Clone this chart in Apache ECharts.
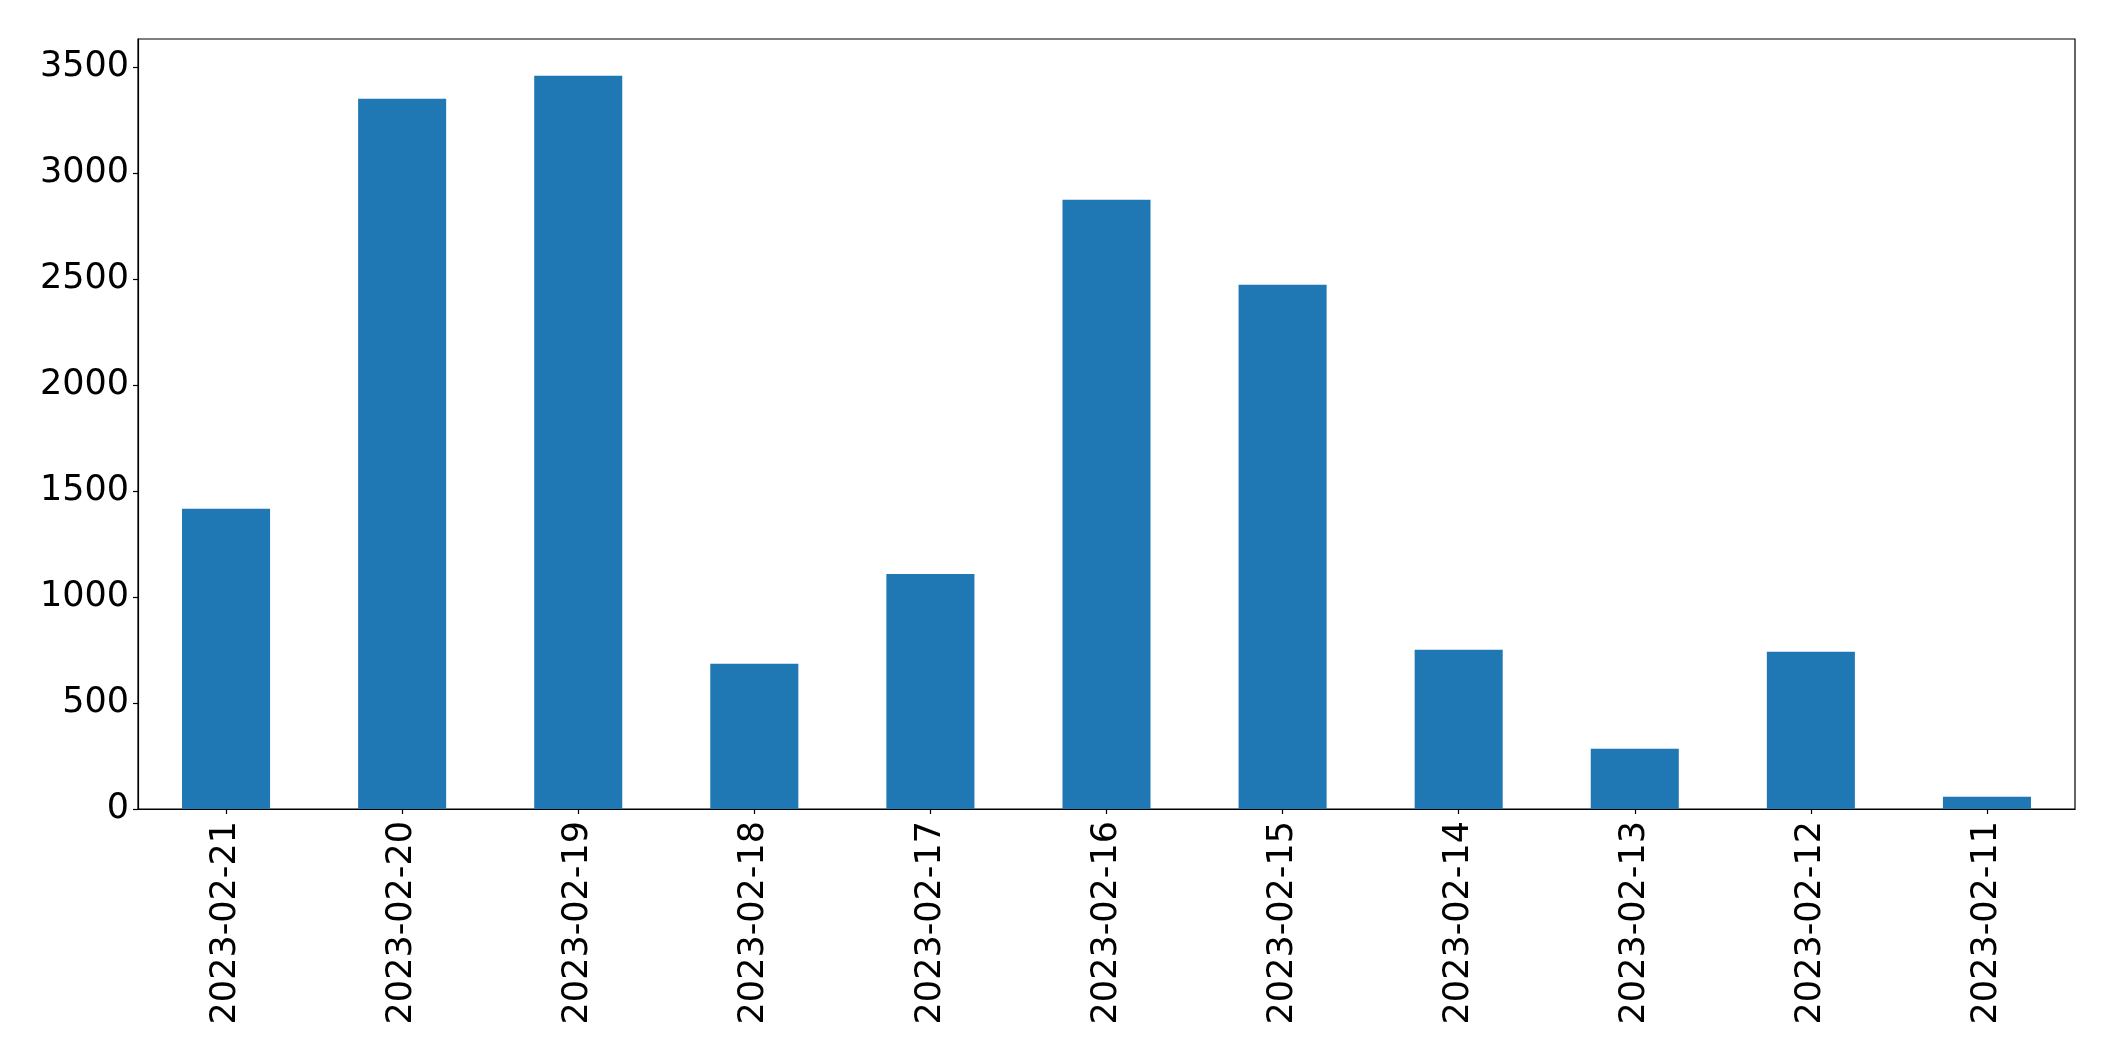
<!DOCTYPE html>
<html>
<head>
<meta charset="utf-8">
<script src="https://cdn.jsdelivr.net/npm/echarts@6/dist/echarts.min.js"></script>
<style>
html,body{margin:0;padding:0;background:#fff;}
#chart{width:2115px;height:1061px;}
</style>
</head>
<body>
<div id="chart"></div>
<script>
const categories = ["2023-02-21","2023-02-20","2023-02-19","2023-02-18","2023-02-17","2023-02-16","2023-02-15","2023-02-14","2023-02-13","2023-02-12","2023-02-11"];
const values = [1416, 3349, 3458, 685, 1108, 2873, 2472, 751, 284, 742, 58];
const yTicks = [0, 500, 1000, 1500, 2000, 2500, 3000, 3500];

const chart = echarts.init(document.getElementById('chart'), null, {renderer: 'canvas'});
const yMax = Math.max(...values) * 1.05;
const font = 'DejaVu Sans';
chart.setOption({
  animation: false,
  backgroundColor: '#ffffff',
  grid: {
    left: 138, right: 40, top: 39, bottom: 252,
    show: true, borderColor: '#000', borderWidth: 1.2,
    outerBoundsMode: 'none', containLabel: false
  },
  xAxis: {
    type: 'category',
    data: categories,
    boundaryGap: true,
    axisLine: {show: true, lineStyle: {color: '#000', width: 1.2}},
    axisTick: {show: true, alignWithLabel: true, length: 5, lineStyle: {color: '#000', width: 1.2}},
    axisLabel: {rotate: 90, margin: 12, color: '#000', fontFamily: font, fontSize: 35, interval: 0},
    splitLine: {show: false}
  },
  yAxis: {
    type: 'value',
    min: 0, max: yMax,
    axisLine: {show: true, lineStyle: {color: '#000', width: 1.2}},
    axisTick: {show: true, length: 5, lineStyle: {color: '#000', width: 1.2}, customValues: yTicks},
    axisLabel: {margin: 9, color: '#000', fontFamily: font, fontSize: 35, customValues: yTicks,
      formatter: function (v) { return String(v); }},
    splitLine: {show: false}
  },
  series: [{
    type: 'bar',
    data: values,
    barWidth: '50%',
    itemStyle: {color: '#1f77b4'}
  }]
});
</script>
</body>
</html>
